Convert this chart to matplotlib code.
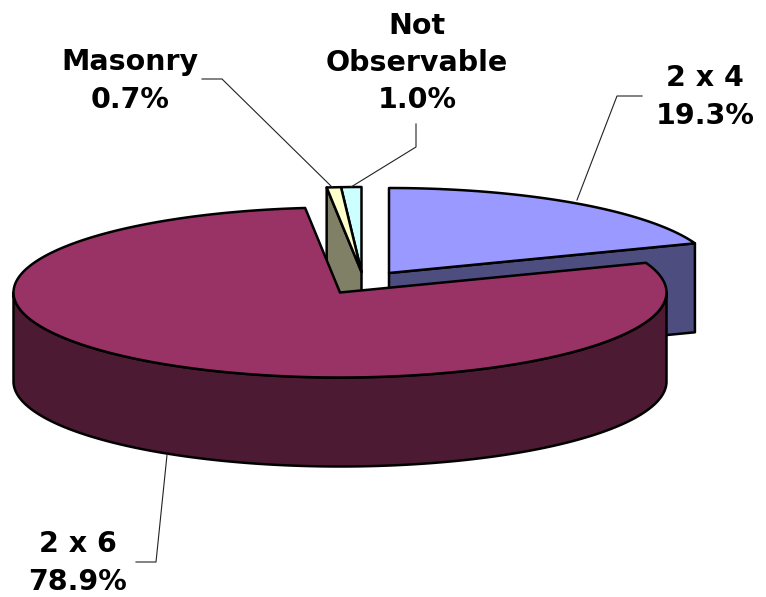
import numpy as np
import matplotlib
matplotlib.use('Agg')
import matplotlib.pyplot as plt
from matplotlib.patches import Polygon

# slice values, clockwise from 12 o'clock
labels = ['2 x 4', '2 x 6', 'Masonry', 'Not\nObservable']
values = [19.3, 78.9, 0.7, 1.0]
top_colors = ['#9999FF', '#993366', '#FFFFCC', '#CCFFFF']
side_colors = ['#4D4D80', '#4D1A33', '#808066', '#668080']

# pie geometry in pixels
rx = 326.5
ry = 85
depth = 89
centers = [(389, 273), (340, 292.5), (361.5, 272), (361.5, 272)]

plt.rcParams['font.family'] = ['DejaVu Sans']

fig = plt.figure(figsize=(7.66, 5.97), dpi=100)
ax = fig.add_axes([0, 0, 1, 1])
ax.set_xlim(0, 766)
ax.set_ylim(597, 0)
ax.axis('off')

total = sum(values)
ends = np.cumsum(values) / total * 360
starts = np.concatenate(([0], ends[:-1]))


def rim(c, a, b):
    t = np.radians(np.linspace(a, b, max(int(abs(b - a) * 2), 2)))
    return np.column_stack((c[0] + rx * np.sin(t), c[1] - ry * np.cos(t)))


def shape(pts, color, z):
    ax.add_patch(Polygon(pts, closed=True, fc=color, ec='black', lw=1.8,
                         joinstyle='round', zorder=z))


down = np.array([0, depth])

# 2 x 4: cut face at its end angle, then top
c = centers[0]
edge = rim(c, ends[0], ends[0])[0]
shape([c, edge, edge + down, np.array(c) + down], side_colors[0], 1)
shape(np.vstack(([c], rim(c, starts[0], ends[0]))), top_colors[0], 2)

# Not Observable and Masonry slivers
c = centers[3]
shape(np.vstack(([c], rim(c, starts[3], ends[3]))), top_colors[3], 3)
c = centers[2]
edge = rim(c, starts[2], starts[2])[0]
shape([c, edge, edge + down, np.array(c) + down], side_colors[2], 3)
shape(np.vstack(([c], rim(c, starts[2], ends[2]))), top_colors[2], 4)

# 2 x 6: outer wall, then top
c = centers[1]
front = rim(c, 90, 270)
shape(np.vstack((front, (front + down)[::-1])), side_colors[1], 5)
shape(np.vstack(([c], rim(c, starts[1], ends[1]))), top_colors[1], 6)

# leader lines
leaders = [
    ([642, 617, 577], [96, 96, 200]),
    ([136, 156, 167], [562, 562, 455]),
    ([202, 222, 332], [79, 79, 187]),
    ([416, 416, 351], [124, 147, 187]),
]
for xs, ys in leaders:
    ax.plot(xs, ys, color='#222222', lw=0.8, zorder=7)

# data labels
label_pos = [(705, 97), (78, 563), (130, 81), (417, 63)]
for name, val, (x, y) in zip(labels, values, label_pos):
    ax.text(x, y, f'{name}\n{val:.1f}%', ha='center', va='center',
            fontsize=20.5, fontweight='bold', color='black', linespacing=1.43)

fig.savefig('out.png', dpi=100)
